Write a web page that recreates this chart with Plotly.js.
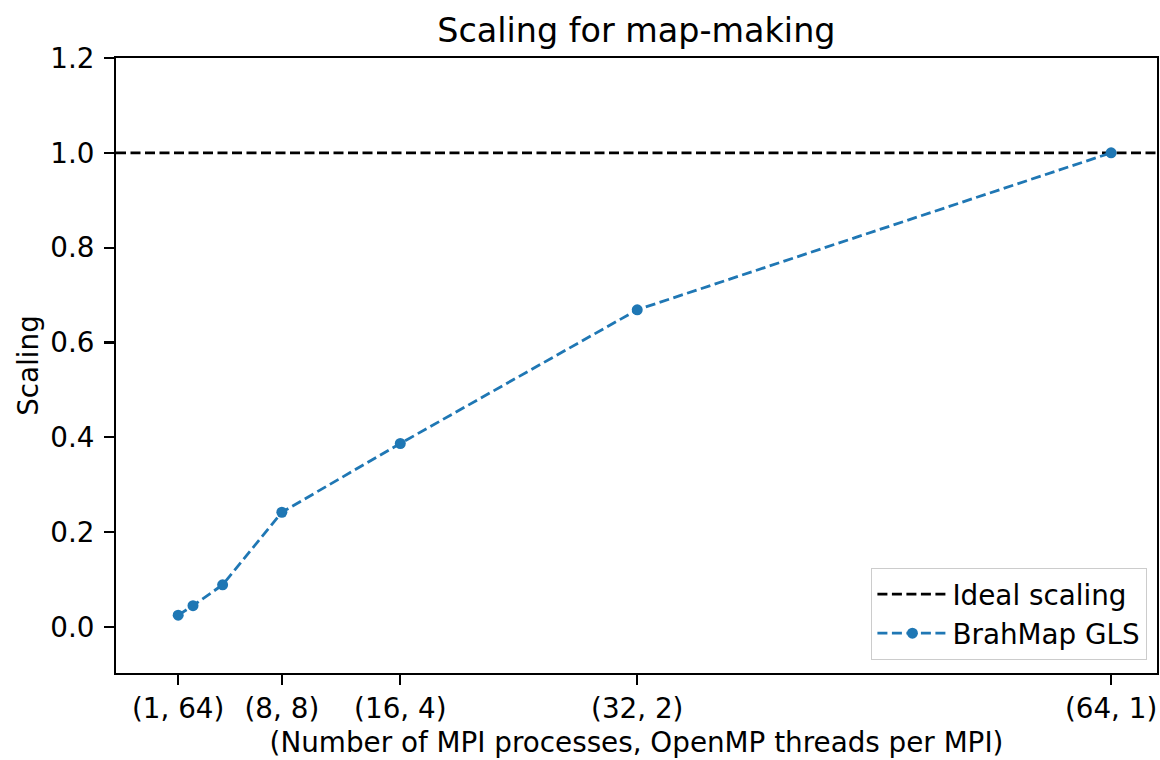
<!DOCTYPE html>
<html>
<head>
<meta charset="utf-8">
<script src="https://cdn.plot.ly/plotly-3.0.1.min.js"></script>
<style>html,body{margin:0;padding:0;background:#fff;}#chart{width:1160px;height:760px;}</style>
</head>
<body>
<div id="chart"></div>
<script>
// Data
const mpiProcesses = [1, 2, 4, 8, 16, 32, 64];
const ompThreads = [64, 32, 16, 8, 4, 2, 1];
const scaling = [0.025, 0.045, 0.089, 0.242, 0.387, 0.669, 1.0];
const idealScaling = 1.0;
const tickMpi = [1, 8, 16, 32, 64];
const tickLabels = ["(1, 64)", "(8, 8)", "(16, 4)", "(32, 2)", "(64, 1)"];
const yTicks = [0.0, 0.2, 0.4, 0.6, 0.8, 1.0, 1.2];

const xRange = [-3.2, 67.1];
const yRange = [-0.097, 1.2];

const FONT = "DejaVu Sans, sans-serif";
const FS = 27.8;

const traces = [
  {
    x: xRange, y: [idealScaling, idealScaling],
    mode: "lines", name: "Ideal scaling", legendgroup: "a",
    line: {color: "#000000", width: 2.8, dash: "10px,4.5px"},
    hoverinfo: "skip"
  },
  {
    x: mpiProcesses, y: scaling,
    customdata: ompThreads,
    mode: "lines+markers", name: "BrahMap GLS", legendgroup: "b",
    line: {color: "#1f77b4", width: 2.8, dash: "10px,4.5px"},
    marker: {color: "#1f77b4", size: 11, line: {width: 0}}
  }
];

const axisCommon = {
  showline: true, linecolor: "#000", linewidth: 2.2, mirror: true,
  ticks: "outside", ticklen: 9.7, tickwidth: 2.2, tickcolor: "#000",
  showgrid: false, zeroline: false,
  tickfont: {family: FONT, size: FS, color: "#000"},
  automargin: false
};

const layout = {
  width: 1160, height: 760,
  paper_bgcolor: "#fff", plot_bgcolor: "#fff",
  margin: {l: 116, r: 3, t: 58, b: 87, pad: 0},
  font: {family: FONT, size: FS, color: "#000"},
  title: {
    text: "Scaling for map-making",
    font: {family: FONT, size: 33.4, color: "#000"},
    x: 0.5486, xref: "container", xanchor: "center",
    y: 1 - 30/760, yref: "container", yanchor: "middle"
  },
  xaxis: Object.assign({}, axisCommon, {
    range: xRange,
    tickmode: "array", tickvals: tickMpi, ticktext: tickLabels,
    ticklabelstandoff: 0,
    title: {text: "(Number of MPI processes, OpenMP threads per MPI)", font: {family: FONT, size: FS, color: "#000"}, standoff: 8}
  }),
  yaxis: Object.assign({}, axisCommon, {
    range: yRange,
    tickmode: "array", tickvals: yTicks, ticktext: yTicks.map(v => v.toFixed(1)),
    ticklabelstandoff: 4,
    title: {text: "Scaling", font: {family: FONT, size: FS, color: "#000"}, standoff: 4}
  }),
  showlegend: true,
  legend: {
    x: 0.9904, xanchor: "right", y: 0.021, yanchor: "bottom",
    bgcolor: "rgba(255,255,255,0.8)", bordercolor: "#cccccc", borderwidth: 1.4,
    font: {family: FONT, size: FS, color: "#000"},
    traceorder: "normal", tracegroupgap: 6, itemwidth: 70
  }
};

Plotly.newPlot("chart", traces, layout, {displayModeBar: false, staticPlot: true});
</script>
</body>
</html>
